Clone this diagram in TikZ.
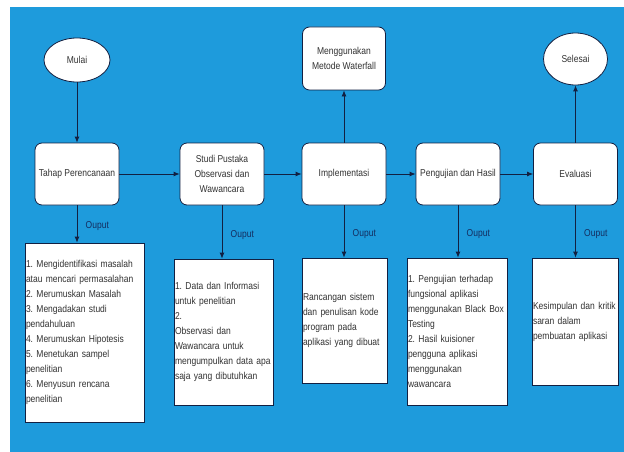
\documentclass[tikz,border=0pt]{standalone}
\usepackage{fontspec}
\setmainfont{Liberation Sans}[FakeStretch=0.85]
\usetikzlibrary{arrows.meta, shapes.geometric}
\tikzset{>={Latex[length=6pt,width=5pt]}}
\definecolor{bgblue}{RGB}{30,155,220}
\definecolor{edgenavy}{RGB}{18,32,66}
\definecolor{textgray}{RGB}{50,50,50}
\definecolor{labelblue}{RGB}{20,45,95}

\begin{document}
\begin{tikzpicture}[x = 1pt, y = -1pt, ->, color = edgenavy, text = textgray, line width = 0.8pt,
    font = \fontsize{10}{15}\selectfont\frenchspacing,
    stage/.style = {draw, fill = white, rounded corners = 7pt, minimum width = 84pt, minimum height = 62pt, align = center},
    terminal/.style = {draw, fill = white, ellipse, inner sep = 0pt},
    hasil/.style = {draw, fill = white, align = left, inner sep = 1pt},
    ouput/.style = {right, pos = 0.55, xshift = 5pt, text = labelblue}]
        \useasboundingbox (0, 0) rectangle (624, 452);
        \fill[bgblue] (10, 7) rectangle (624, 452);
        \node[terminal, minimum width = 66pt, minimum height = 44pt] (mulai) at (77, 60) {Mulai};
        \node[stage] (perencanaan) at (77, 174) {Tahap Perencanaan};
        \node[stage] (studi) at (222, 174) {Studi Pustaka \\ Observasi dan \\ Wawancara};
        \node[stage] (implementasi) at (344, 174) {Implementasi};
        \node[stage] (pengujian) at (458, 174) {Pengujian dan Hasil};
        \node[stage] (evaluasi) at (575.5, 174) {Evaluasi};
        \node[stage, minimum width = 83pt, minimum height = 63pt] (waterfall) at (344, 58.5) {Menggunakan \\ Metode Waterfall};
        \node[terminal, minimum width = 64pt, minimum height = 52pt] (selesai) at (575.5, 59) {Selesai};
        \node[hasil, text width = 117pt, minimum height = 179pt] (hasil1) at (84.5, 332.5) {1.\ Mengidentifikasi masalah \\ atau mencari permasalahan \\ 2.\ Merumuskan Masalah \\ 3.\ Mengadakan studi \\ pendahuluan \\ 4.\ Merumuskan Hipotesis \\ 5.\ Menetukan sampel \\ penelitian \\ 6.\ Menyusun rencana \\ penelitian};
        \node[hasil, text width = 97pt, minimum height = 146pt] (hasil2) at (223.5, 332) {1.\ Data dan Informasi \\ untuk penelitian \\ 2. \\ Observasi dan \\ Wawancara untuk \\ mengumpulkan data apa \\ saja yang dibutuhkan};
        \node[hasil, text width = 83pt, minimum height = 125pt] (hasil3) at (344.5, 320.5) {Rancangan sistem \\ dan penulisan kode \\ program pada \\ aplikasi yang dibuat};
        \node[hasil, text width = 98pt, minimum height = 147pt] (hasil4) at (457, 331.5) {1.\ Pengujian terhadap \\ fungsional aplikasi \\ menggunakan Black Box \\ Testing \\ 2.\ Hasil kuisioner \\ pengguna aplikasi \\ menggunakan \\ wawancara};
        \node[hasil, text width = 84pt, minimum height = 127pt] (hasil5) at (575, 321.5) {Kesimpulan dan kritik \\ saran dalam \\ pembuatan aplikasi};
        \draw (mulai) -- (perencanaan);
        \draw (perencanaan) -- (studi);
        \draw (studi) -- (implementasi);
        \draw (implementasi) -- (pengujian);
        \draw (pengujian) -- (evaluasi);
        \draw (implementasi) -- (waterfall);
        \draw (evaluasi) -- (selesai);
        \draw (perencanaan) -- node[ouput] {Ouput} (perencanaan |- hasil1.north);
        \draw (studi) -- node[ouput] {Ouput} (studi |- hasil2.north);
        \draw (implementasi) -- node[ouput] {Ouput} (implementasi |- hasil3.north);
        \draw (pengujian) -- node[ouput] {Ouput} (pengujian |- hasil4.north);
        \draw (evaluasi) -- node[ouput] {Ouput} (evaluasi |- hasil5.north);
      \end{tikzpicture}
\end{document}
